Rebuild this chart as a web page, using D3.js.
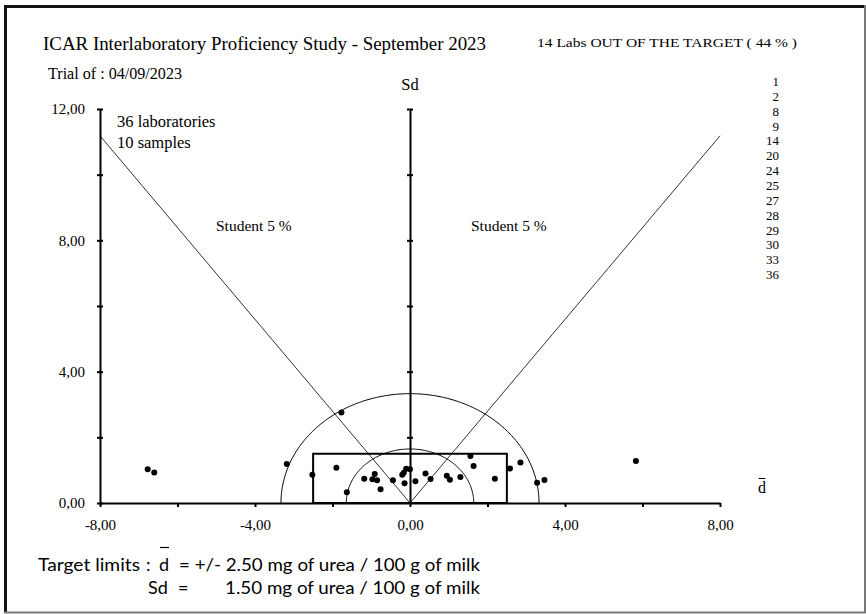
<!DOCTYPE html>
<html>
<head>
<meta charset="utf-8">
<script src="https://cdn.jsdelivr.net/npm/d3@7"></script>
<style>
  html, body { margin: 0; padding: 0; background: #fff; }
  svg { display: block; }
  .serif { font-family: "Liberation Serif", "DejaVu Serif", serif; fill: #000; }
  .sans { font-family: Lato, "Open Sans", sans-serif; fill: #000; }
</style>
</head>
<body>
<svg id="chart" width="866" height="614"></svg>
<script>
// Mean difference (d) and standard deviation of differences (Sd) per laboratory
const labD  = [-6.77, -6.60, 5.83, -3.18, -2.52, -1.90, -1.77, -1.63, -1.18, -0.97, -0.91,
               -0.85, -0.76, -0.44, -0.20, -0.16, -0.10, 0.00, -0.14, 0.14, 0.40, 0.53,
               0.95, 1.03, 1.30, 1.56, 1.64, 2.19, 2.58, 2.85, 3.28, 3.47];
const labSd = [1.03, 0.93, 1.28, 1.19, 0.86, 1.07, 2.76, 0.33, 0.74, 0.72, 0.88,
               0.69, 0.42, 0.69, 0.86, 0.92, 1.04, 1.03, 0.60, 0.66, 0.90, 0.73,
               0.83, 0.71, 0.79, 1.43, 1.13, 0.74, 1.05, 1.23, 0.62, 0.70];

// Laboratories outside the target
const labsOut = ["1", "2", "8", "9", "14", "20", "24", "25", "27", "28", "29", "30", "33", "36"];

// Axis ticks
const xTicks = [-8, -6, -4, -2, 0, 2, 4, 6, 8];
const xLabelled = [-8, -4, 0, 4, 8];
const yTicks = [0, 2, 4, 6, 8, 10, 12];
const yLabelled = [0, 4, 8, 12];

// Target limits and reference curves
const targetD = 2.5;
const targetSd = 1.5;
const circleRadii = [1.645, 3.33];
const nSamples = 10;
const tStudent = 2.262;
const nLabs = 36;

const svg = d3.select("#chart");
const x = d3.scaleLinear().domain([-8, 8]).range([100, 720]);
const y = d3.scaleLinear().domain([0, 12]).range([503, 109]);

const fmt = d3.formatLocale({ decimal: ",", thousands: ".", grouping: [3], currency: ["", ""], minus: "-" }).format(".2f");

// Outer frame
svg.append("line").attr("x1", 5.5).attr("x2", 5.5).attr("y1", 5).attr("y2", 613).attr("stroke", "#111").attr("stroke-width", 3);
svg.append("line").attr("x1", 4).attr("x2", 866).attr("y1", 6.5).attr("y2", 6.5).attr("stroke", "#111").attr("stroke-width", 3);
svg.append("line").attr("x1", 4).attr("x2", 866).attr("y1", 612.5).attr("y2", 612.5).attr("stroke", "#777").attr("stroke-width", 2);
svg.append("line").attr("x1", 865).attr("x2", 865).attr("y1", 5).attr("y2", 613).attr("stroke", "#777").attr("stroke-width", 2);

// Student 5 % lines: Sd = |d| * sqrt(n) / t
const slope = Math.sqrt(nSamples) / tStudent;
[-1, 1].forEach(s => {
  svg.append("line")
    .attr("x1", x(0)).attr("y1", y(0))
    .attr("x2", x(8 * s)).attr("y2", y(8 * slope))
    .attr("stroke", "#333").attr("stroke-width", 1);
});

// Half circles
const arcLine = d3.line().x(p => x(p[0])).y(p => y(p[1]));
circleRadii.forEach(r => {
  const pts = d3.range(0, 181).map(a => {
    const t = a * Math.PI / 180;
    return [r * Math.cos(t), r * Math.sin(t)];
  });
  svg.append("path").attr("d", arcLine(pts)).attr("fill", "none").attr("stroke", "#000").attr("stroke-width", 1);
});

// Target rectangle
svg.append("rect")
  .attr("x", x(-targetD)).attr("y", y(targetSd))
  .attr("width", x(targetD) - x(-targetD)).attr("height", y(0) - y(targetSd))
  .attr("fill", "none").attr("stroke", "#000").attr("stroke-width", 2);

// X axis
const xAxis = svg.append("g").attr("transform", `translate(0,${y(0)})`)
  .call(d3.axisBottom(x).tickValues(xTicks).tickSizeInner(4).tickSizeOuter(0).tickPadding(11)
    .tickFormat(d => xLabelled.includes(d) ? fmt(d) : ""));
xAxis.select(".domain").attr("stroke", "#000").attr("stroke-width", 2);
xAxis.selectAll(".tick line").attr("stroke-width", 2);
xAxis.selectAll(".tick text").attr("class", "serif").attr("font-size", 15).attr("dy", "0.78em");

// Y axis (left)
const yAxis = svg.append("g").attr("transform", `translate(${x(-8)},0)`)
  .call(d3.axisLeft(y).tickValues(yTicks).tickSizeInner(3).tickSizeOuter(0).tickPadding(12)
    .tickFormat(d => yLabelled.includes(d) ? fmt(d) : ""));
yAxis.select(".domain").attr("stroke", "#000").attr("stroke-width", 2);
yAxis.selectAll(".tick line").attr("x1", 3).attr("stroke-width", 2);
yAxis.selectAll(".tick text").attr("class", "serif").attr("font-size", 15);

// Sd axis (centre)
const sdAxis = svg.append("g").attr("transform", `translate(${x(0)},0)`)
  .call(d3.axisLeft(y).tickValues(yTicks.filter(v => v > 0)).tickSizeInner(3).tickSizeOuter(0).tickFormat(""));
sdAxis.select(".domain").attr("stroke", "#000").attr("stroke-width", 2);
sdAxis.selectAll(".tick line").attr("x1", 3).attr("stroke-width", 2);

// Laboratories
svg.append("g").selectAll("circle")
  .data(d3.zip(labD, labSd))
  .join("circle")
  .attr("cx", p => x(p[0])).attr("cy", p => y(p[1]))
  .attr("r", 3).attr("fill", "#000");

// Titles and annotations
svg.append("text").attr("class", "serif").attr("x", 43).attr("y", 50).attr("font-size", 18)
  .attr("textLength", 443).attr("lengthAdjust", "spacingAndGlyphs")
  .text("ICAR Interlaboratory Proficiency Study - September  2023");
svg.append("text").attr("class", "serif").attr("x", 537).attr("y", 47).attr("font-size", 12.5)
  .attr("textLength", 260).attr("lengthAdjust", "spacingAndGlyphs")
  .text(`${labsOut.length} Labs OUT OF THE TARGET ( ${Math.round(100 * labsOut.length / labD.length)} % )`);
svg.append("text").attr("class", "serif").attr("x", 48).attr("y", 79).attr("font-size", 16.5)
  .attr("textLength", 134).attr("lengthAdjust", "spacingAndGlyphs")
  .text("Trial of : 04/09/2023");
svg.append("text").attr("class", "serif").attr("x", x(0)).attr("y", 90).attr("font-size", 16.5)
  .attr("text-anchor", "middle").text("Sd");
svg.append("text").attr("class", "serif").attr("x", 117).attr("y", 127).attr("font-size", 16.5)
  .text(`${nLabs} laboratories`);
svg.append("text").attr("class", "serif").attr("x", 117).attr("y", 148).attr("font-size", 16.5)
  .text(`${nSamples} samples`);
svg.append("text").attr("class", "serif").attr("x", 216).attr("y", 231).attr("font-size", 15.5)
  .text("Student 5 %");
svg.append("text").attr("class", "serif").attr("x", 471).attr("y", 231).attr("font-size", 15.5)
  .text("Student 5 %");

// List of laboratories out of target
svg.append("g").selectAll("text")
  .data(labsOut)
  .join("text")
  .attr("class", "serif")
  .attr("x", 779)
  .attr("y", (d, i) => 86 + i * 14.85)
  .attr("text-anchor", "end")
  .attr("font-size", 13)
  .text(d => d);

// d-bar label of the x axis
svg.append("text").attr("class", "serif").attr("x", 762).attr("y", 493).attr("font-size", 16)
  .attr("text-anchor", "middle").text("d");
svg.append("line").attr("x1", 758.5).attr("x2", 765.5).attr("y1", 478.5).attr("y2", 478.5)
  .attr("stroke", "#000").attr("stroke-width", 1);

// Target limits
svg.append("text").attr("class", "sans").attr("x", 38).attr("y", 571).attr("font-size", 18)
  .attr("textLength", 102).attr("lengthAdjust", "spacingAndGlyphs")
  .text("Target limits");
svg.append("text").attr("class", "sans").attr("x", 146).attr("y", 571).attr("font-size", 18)
  .text(":");
svg.append("text").attr("class", "sans").attr("x", 159).attr("y", 571).attr("font-size", 18)
  .text("d");
svg.append("line").attr("x1", 160).attr("x2", 169).attr("y1", 547.5).attr("y2", 547.5)
  .attr("stroke", "#000").attr("stroke-width", 1.2);
svg.append("text").attr("class", "sans").attr("x", 179).attr("y", 571).attr("font-size", 18)
  .attr("textLength", 301).attr("lengthAdjust", "spacingAndGlyphs")
  .text(`= +/- ${targetD.toFixed(2)} mg of urea / 100 g of milk`);
svg.append("text").attr("class", "sans").attr("x", 148).attr("y", 594).attr("font-size", 18)
  .text("Sd");
svg.append("text").attr("class", "sans").attr("x", 178).attr("y", 594).attr("font-size", 18)
  .text("=");
svg.append("text").attr("class", "sans").attr("x", 225).attr("y", 594).attr("font-size", 18)
  .attr("textLength", 255).attr("lengthAdjust", "spacingAndGlyphs")
  .text(`${targetSd.toFixed(2)} mg of urea / 100 g of milk`);
</script>
</body>
</html>
